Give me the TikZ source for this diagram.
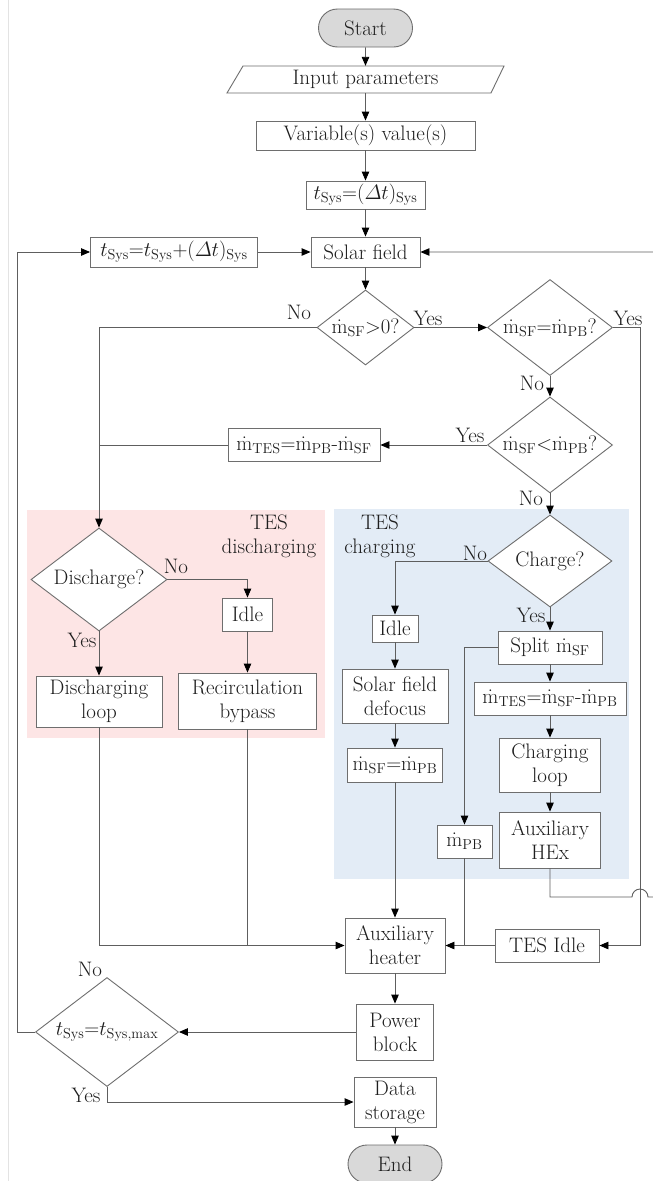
\documentclass[tikz,border=0pt]{standalone}
\usepackage{amsmath}
\usetikzlibrary{arrows.meta,shapes.geometric,shapes.misc}
\definecolor{ln}{HTML}{5E5E5E}
\definecolor{bd}{HTML}{6E6E6E}
\definecolor{tx}{HTML}{1E1E1E}
\definecolor{pinkbg}{HTML}{FDE5E5}
\definecolor{bluebg}{HTML}{E3ECF6}
\definecolor{termfill}{HTML}{D9D9D9}
\newcommand{\md}{\dot{\mathrm{m}}}
\newcommand{\sbs}[1]{_{\mathrm{#1}}}
\tikzset{
 every node/.style={font=\fontsize{21}{24}\selectfont, text=tx},
 box/.style={draw=bd, line width=0.9pt, fill=white, rectangle, inner sep=1pt, align=center},
 dec/.style={draw=bd, line width=0.9pt, fill=white, diamond, inner sep=0pt, align=center},
 term/.style={draw=bd, line width=0.9pt, fill=termfill, rounded rectangle, inner sep=1pt},
 lbl/.style={inner sep=0pt, align=center},
 conn/.style={draw=ln, line width=0.9pt},
 arr/.style={conn, -{Triangle[length=9pt,width=7.5pt,color=black]}},
}
\begin{document}
\begin{tikzpicture}[x=1pt,y=-1pt]
\useasboundingbox (0,0) rectangle (653,1181);
\fill[white] (0,0) rectangle (653,1181);
\clip (0,0) rectangle (653,1181);
\draw[gray!22, line width=1pt] (8,0) -- (8,1181);
% regions
\fill[pinkbg] (27,510) rectangle (325,738);
\fill[bluebg] (334,509) rectangle (629,879);
\node[lbl] (tesd) at (269,536) {TES\\discharging};
\node[lbl] (tesc) at (380,536) {TES\\charging};
% nodes
\node[term, minimum width=96pt, minimum height=38pt] (start) at (365.5,28) {Start};
\node[lbl, minimum height=27pt] (inp) at (365.5,79.5) {Input parameters};
\draw[draw=bd,line width=0.9pt] (227,93) -- (243,66) -- (504,66) -- (491,93) -- cycle;
\node[box, minimum width=219pt, minimum height=29pt] (var) at (365.5,135.5) {Variable(s) value(s)};
\node[box, minimum width=119pt, minimum height=28pt] (tinit) at (365.5,195) {$t\sbs{Sys}{=}(\varDelta t)\sbs{Sys}$};
\node[box, minimum width=109pt, minimum height=30pt] (solar) at (365.5,252) {Solar field};
\node[box, minimum width=167pt, minimum height=30pt] (tinc) at (174,252) {$t\sbs{Sys}{=}t\sbs{Sys}{+}(\varDelta t)\sbs{Sys}$};
\node[dec, minimum width=97pt, minimum height=75pt, shape aspect=1.29] (d1) at (365.5,327.5) {$\md\sbs{SF}{>}0$?};
\node[dec, minimum width=125pt, minimum height=96pt, shape aspect=1.3] (d2) at (550,327.5) {$\md\sbs{SF}{=}\md\sbs{PB}$?};
\node[dec, minimum width=125pt, minimum height=96pt, shape aspect=1.3] (d3) at (550,445) {$\md\sbs{SF}{<}\md\sbs{PB}$?};
\node[box, minimum width=152pt, minimum height=33pt] (mtes) at (304,445) {$\md\sbs{TES}{=}\md\sbs{PB}$-$\md\sbs{SF}$};
\node[dec, minimum width=136pt, minimum height=103pt, shape aspect=1.32] (dis) at (99,579.5) {Discharge?};
\node[box, minimum width=50pt, minimum height=33pt] (idle1) at (247.5,614.5) {Idle};
\node[box, minimum width=138pt, minimum height=56pt] (recirc) at (247.5,701) {Recirculation\\bypass};
\node[box, minimum width=126pt, minimum height=51pt] (dloop) at (99,701.5) {Discharging\\loop};
\node[dec, minimum width=124pt, minimum height=92pt, shape aspect=1.35] (charge) at (550,561) {Charge?};
\node[box, minimum width=46pt, minimum height=27pt] (idle2) at (395,628.5) {Idle};
\node[box, minimum width=106pt, minimum height=54pt] (defoc) at (395,696) {Solar field\\defocus};
\node[box, minimum width=95pt, minimum height=34pt] (msfpb) at (395,765) {$\md\sbs{SF}{=}\md\sbs{PB}$};
\node[box, minimum width=104pt, minimum height=33pt] (split) at (550,647.5) {Split $\md\sbs{SF}$};
\node[box, minimum width=55pt, minimum height=33pt] (mpb) at (464.5,841.5) {$\md\sbs{PB}$};
\node[box, minimum width=152pt, minimum height=33pt] (mtes2) at (550,698.5) {$\md\sbs{TES}{=}\md\sbs{SF}$-$\md\sbs{PB}$};
\node[box, minimum width=101pt, minimum height=54pt] (cloop) at (550,765) {Charging\\loop};
\node[box, minimum width=101pt, minimum height=56pt] (auxhex) at (550,840) {Auxiliary\\HEx};
\node[box, minimum width=100pt, minimum height=55pt] (auxh) at (395,945.5) {Auxiliary\\heater};
\node[box, minimum width=104pt, minimum height=33pt] (tesidle) at (547,945.5) {TES Idle};
\node[box, minimum width=77pt, minimum height=56pt] (power) at (395,1032) {Power\\block};
\node[dec, minimum width=143pt, minimum height=109pt, shape aspect=1.31] (dmax) at (107,1032) {$t\sbs{Sys}{=}t\sbs{Sys,max}$};
\node[box, minimum width=82pt, minimum height=50pt] (data) at (395,1102) {Data\\storage};
\node[term, minimum width=96pt, minimum height=38pt] (end) at (395,1164) {End};
% labels
\node[lbl] (l1) at (299,312) {No};
\node[lbl] (l2) at (428,318) {Yes};
\node[lbl] (l3) at (628,318) {Yes};
\node[lbl] (l4) at (532,383) {No};
\node[lbl] (l5) at (470,435) {Yes};
\node[lbl] (l6) at (531,498) {No};
\node[lbl] (l7) at (176,566) {No};
\node[lbl] (l8) at (82,640) {Yes};
\node[lbl] (l9) at (475,553) {No};
\node[lbl] (l10) at (531,615) {Yes};
\node[lbl] (l11) at (90,969) {No};
\node[lbl] (l12) at (86,1095) {Yes};
% connectors
\coordinate (hopL) at (632,897);
\coordinate (offB) at (700,897);
\draw[arr] (start) -- (inp);
\draw[arr] (inp) -- (var);
\draw[arr] (var) -- (tinit);
\draw[arr] (tinit) -- (solar);
\draw[arr] (tinc) -- (solar);
\draw[arr] (solar) -- (d1);
\draw[arr] (d1) -- (d2);
\draw[arr] (d1.west) -| (dis.north);
\draw[arr] (d2) -- (d3);
\draw[arr] (d2.east) -- ++(27,0) |- (tesidle.east);
\draw[arr] (d3) -- (mtes);
\draw[conn] (mtes.west) -- (mtes.west -| dis.north);
\draw[arr] (d3) -- (charge);
\draw[arr] (dis.east) -| (idle1.north);
\draw[arr] (idle1) -- (recirc);
\draw[arr] (dis) -- (dloop);
\draw[arr] (dloop.south) |- (auxh.west);
\draw[conn] (recirc.south) -- (recirc.south |- auxh.west);
\draw[arr] (charge.west) -| (idle2.north);
\draw[arr] (idle2) -- (defoc);
\draw[arr] (defoc) -- (msfpb);
\draw[arr] (msfpb) -- (auxh);
\draw[arr] (charge) -- (split);
\draw[arr] (split.west) -| (mpb.north);
\draw[arr] (split) -- (mtes2);
\draw[arr] (mtes2) -- (cloop);
\draw[arr] (cloop) -- (auxhex);
\draw[conn] (mpb.south) -- (mpb.south |- auxh.east);
\draw[arr] (tesidle) -- (auxh);
\draw[arr] (auxhex.south) |- (hopL) arc[start angle=180,end angle=0,radius=8pt] -- (offB) |- (solar.east);
\draw[arr] (auxh) -- (power);
\draw[arr] (power) -- (dmax);
\draw[arr] (dmax.west) -- ++(-17.5,0) |- (tinc.west);
\draw[arr] (dmax.south) |- (data.west);
\draw[arr] (data) -- (end);
\end{tikzpicture}
\end{document}
